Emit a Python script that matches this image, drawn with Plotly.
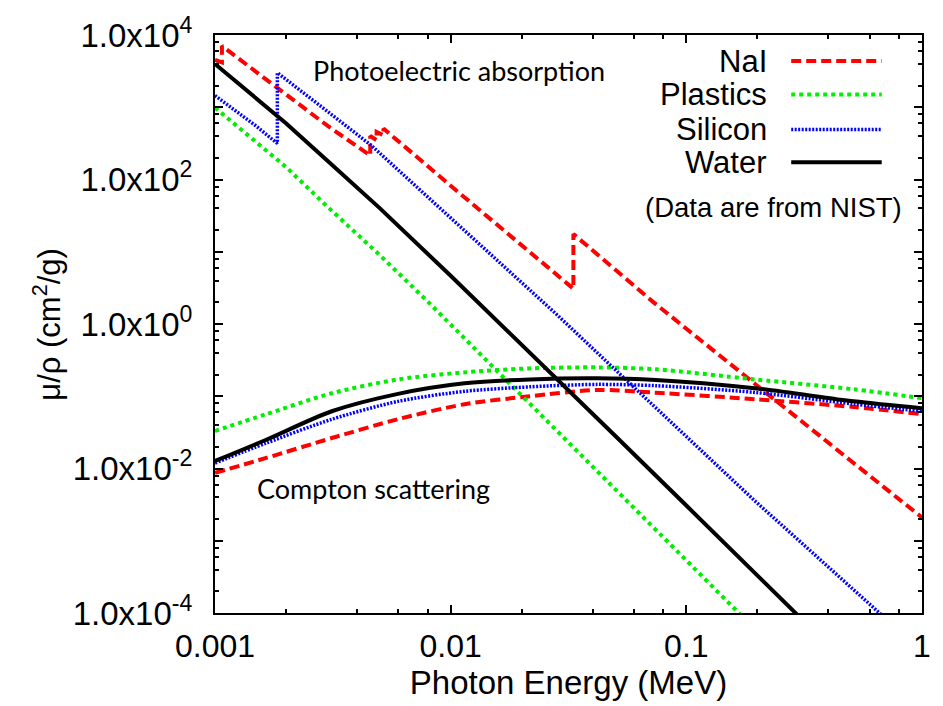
import plotly.graph_objects as go

# Mass attenuation coefficients (cm^2/g) vs photon energy (MeV)
# Photoelectric absorption branches (edges repeated at the same energy)
nai_pe_E = [0.001, 0.00107, 0.00107, 0.002, 0.003, 0.004557, 0.004557, 0.004852, 0.004852,
            0.005188, 0.005188, 0.01, 0.02, 0.03317, 0.03317, 0.05, 0.072, 0.1, 0.189,
            0.3, 0.5, 1.0]
nai_pe_mu = [4530, 4170, 7050, 1500, 555, 215, 400, 350, 455, 410, 507, 82, 12.3, 3.08,
             17.6, 5.6, 2.04, 0.86, 0.161, 0.0484, 0.0127, 0.0021]

plastic_pe_E = [0.001, 0.0015, 0.00201, 0.003, 0.005, 0.008, 0.015, 0.0282, 0.05, 0.1,
                0.167, 0.3]
plastic_pe_mu = [986, 320, 147, 42, 9.0, 2.04, 0.26, 0.0331, 0.0052, 0.00054, 0.0001,
                 0.0000148]

silicon_pe_E = [0.001, 0.0015, 0.001839, 0.001839, 0.003, 0.00461, 0.01, 0.0282, 0.05,
                0.1, 0.195, 0.66, 1.0]
silicon_pe_mu = [1450, 545, 315, 3000, 877, 295, 29.4, 1.35, 0.232, 0.0274, 0.00358,
                 0.0001, 0.000028]

water_pe_E = [0.001, 0.0015, 0.002, 0.003, 0.005, 0.01, 0.02, 0.05, 0.1, 0.2, 0.3, 0.5]
water_pe_mu = [3980, 1330, 600, 182, 40.2, 4.65, 0.52, 0.0282, 0.00307, 0.000335,
               0.000091, 0.0000175]

# Compton (incoherent) scattering branches
compton_E = [0.001, 0.00165, 0.00313, 0.00598, 0.01146, 0.0217, 0.0415, 0.0741, 0.195,
             0.513, 1.0]
nai_c_mu = [0.0087, 0.0140, 0.0264, 0.0482, 0.0776, 0.100, 0.122, 0.112, 0.091, 0.071,
            0.0565]
plastic_c_mu = [0.033, 0.0565, 0.110, 0.171, 0.214, 0.243, 0.251, 0.236, 0.171, 0.125,
                0.094]
silicon_c_mu = [0.0119, 0.0225, 0.0480, 0.085, 0.117, 0.135, 0.146, 0.140, 0.113, 0.078,
                0.062]
water_c_mu = [0.0127, 0.025, 0.062, 0.108, 0.151, 0.171, 0.177, 0.168, 0.129, 0.085,
              0.068]

materials = ["NaI", "Plastics", "Silicon", "Water"]
colors = ["#ff0000", "#00ee00", "#0000ff", "#000000"]
dashes = ["10px,5px", "4px,4px", "2px,1.5px", "solid"]
widths = [4, 4, 3.5, 4]
pe_E = [nai_pe_E, plastic_pe_E, silicon_pe_E, water_pe_E]
pe_mu = [nai_pe_mu, plastic_pe_mu, silicon_pe_mu, water_pe_mu]
c_mu = [nai_c_mu, plastic_c_mu, silicon_c_mu, water_c_mu]

FONT = "Liberation Sans"
NOTE_FONT = "Lato"

fig = go.Figure()
for name, col, dash, w, xe, ye, yc in zip(materials, colors, dashes, widths, pe_E, pe_mu, c_mu):
    fig.add_trace(go.Scatter(
        x=xe, y=ye, mode="lines", name=name, legendgroup=name, showlegend=False,
        line=dict(color=col, width=w, dash=dash),
    ))
    fig.add_trace(go.Scatter(
        x=compton_E, y=yc, mode="lines", name=name, legendgroup=name, showlegend=False,
        line=dict(color=col, width=w, dash=dash, shape="spline", smoothing=0.8),
    ))

# key in the upper right: text right-aligned, line sample to its right
key_y = [0.955, 0.897, 0.8365, 0.78]
for name, col, dash, w, ky in zip(materials, colors, dashes, widths, key_y):
    fig.add_annotation(x=0.784, y=ky, xref="paper", yref="paper", text=name,
                       showarrow=False, xanchor="right", yanchor="middle",
                       font=dict(family=FONT, size=31, color="black"))
    fig.add_shape(type="line", xref="paper", yref="paper", x0=0.815, x1=0.943,
                  y0=ky, y1=ky, line=dict(color=col, width=w, dash=dash))

fig.add_annotation(x=0.79, y=0.702, xref="paper", yref="paper",
                   text="(Data are from NIST)", showarrow=False,
                   xanchor="center", yanchor="middle",
                   font=dict(family=FONT, size=27.5, color="black"))
fig.add_annotation(x=0.136, y=0.938, xref="paper", yref="paper",
                   text="Photoelectric absorption", showarrow=False,
                   xanchor="left", yanchor="middle",
                   font=dict(family=NOTE_FONT, size=27, color="black"))
fig.add_annotation(x=0.056, y=0.215, xref="paper", yref="paper",
                   text="Compton scattering", showarrow=False,
                   xanchor="left", yanchor="middle",
                   font=dict(family=NOTE_FONT, size=27, color="black"))

# vertical axis title
fig.add_annotation(x=-0.238, y=0.5, xref="paper", yref="paper",
                   text="μ/ρ (cm<sup>2</sup>/g)", textangle=-90, showarrow=False,
                   xanchor="center", yanchor="middle",
                   font=dict(family=FONT, size=31, color="black"))

x_ticks = [0.001, 0.01, 0.1, 1]
x_labels = ["0.001", "0.01", "0.1", "1"]
x_minor = [m * d for d in [0.001, 0.01, 0.1] for m in (2, 4, 6, 8)]

y_ticks = [10.0 ** k for k in range(-4, 5)]
y_labels = ["1.0x10<sup>%d</sup>" % k if k % 2 == 0 else "" for k in range(-4, 5)]
y_minor = [m * 10.0 ** k for k in range(-4, 4) for m in (2, 4, 6, 8)]

axis_common = dict(
    type="log", showgrid=False, zeroline=False, showline=True,
    linecolor="black", linewidth=2, mirror="ticks",
    ticks="inside", ticklen=8, tickwidth=2, tickcolor="black",
)

fig.update_xaxes(
    **axis_common, range=[-3, 0], tickmode="array", tickvals=x_ticks, ticktext=x_labels,
    tickfont=dict(family=FONT, size=32, color="black"),
    minor=dict(tickmode="array", tickvals=x_minor, ticks="inside", ticklen=4,
               tickwidth=2, tickcolor="black", showgrid=False),
    ticklabelstandoff=4,
    title=dict(text="Photon Energy (MeV)", font=dict(family=FONT, size=33, color="black"),
               standoff=0),
)
fig.update_yaxes(
    **axis_common, range=[-4, 4], tickmode="array", tickvals=y_ticks, ticktext=y_labels,
    tickfont=dict(family=FONT, size=33, color="black"),
    minor=dict(tickmode="array", tickvals=y_minor, ticks="inside", ticklen=4,
               tickwidth=2, tickcolor="black", showgrid=False),
    ticklabelstandoff=14,
)

fig.update_layout(
    width=943, height=706,
    margin=dict(l=215, r=14, t=32, b=93),
    paper_bgcolor="white", plot_bgcolor="white",
    showlegend=False,
)

fig.write_html("out.html")
